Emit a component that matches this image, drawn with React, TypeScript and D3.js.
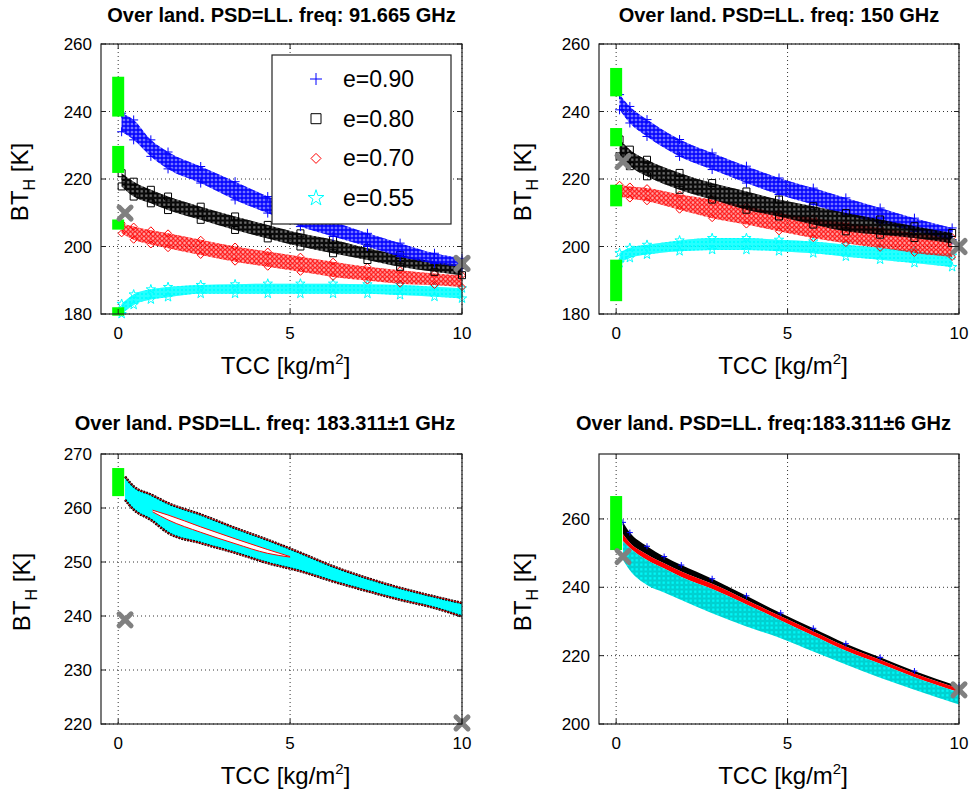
import React from 'react';
import * as d3 from 'd3';

const FONT = '"Liberation Sans", Arial, Helvetica, sans-serif';

// shared x axis
const xDomain: [number, number] = [-0.5, 10];
const xTicks = [0, 5, 10];

// ---- 91.665 GHz ----
const tcc91 = [0.1, 0.45, 0.95, 1.45, 2.4, 3.4, 4.35, 5.3, 6.25, 7.25, 8.2, 9.2, 10];
const e90Hi91 = [239.5, 237.5, 231.6, 228, 223.7, 219.2, 214.8, 210.8, 207.4, 203.9, 201, 198, 196.5];
const e90Lo91 = [234, 231.6, 226.7, 223, 218.8, 213.8, 209.9, 205.9, 203, 200, 197, 195, 194];
const e80Hi91 = [221.7, 219.2, 216.8, 214.8, 211.8, 208.9, 206.4, 203.9, 202, 199.5, 197.5, 195.5, 194.5];
const e80Lo91 = [217.8, 214.8, 212.8, 210.8, 207.9, 204.9, 202.4, 200, 198, 196, 194, 192.5, 191.5];
const e70Hi91 = [206.9, 205.9, 204.8, 203.9, 202, 200, 198.5, 197, 195.5, 194, 193, 192, 191.5];
const e70Lo91 = [203.9, 202, 200.6, 199.5, 197.5, 195.5, 194, 192.5, 191, 189.9, 189, 188.6, 188];
const e55Hi91 = [183, 185.8, 187.3, 188, 188.6, 188.8, 189, 189, 189, 188.8, 188.6, 188.1, 187.6];
const e55Lo91 = [180, 182.7, 184.3, 185, 186, 186, 186, 186, 186, 186, 185.6, 185.1, 184.6];
const green91 = [[238.5, 250.3], [221.8, 229.8], [205, 208], [179.5, 182]];
const obs91 = [[0.2, 209.9], [10, 195]];

// ---- 150 GHz ----
const tcc150 = [0.1, 0.4, 0.9, 1.85, 2.8, 3.8, 4.75, 5.75, 6.7, 7.7, 8.7, 9.8];
const e90Hi150 = [245, 241.5, 237.6, 231.7, 227.7, 223.8, 220.3, 217.3, 214.4, 211.4, 208.4, 205.5];
const e90Lo150 = [240.5, 236.6, 232.6, 226.7, 222.8, 218.8, 215.4, 212.4, 209.4, 207, 204.5, 202];
const e80Hi150 = [231.7, 228.7, 225.7, 221.8, 218.8, 216.3, 213.9, 211.9, 209.9, 208, 206, 204];
const e80Lo150 = [226.7, 223.8, 220.8, 216.8, 213.9, 210.9, 208.9, 206.5, 204.5, 203.5, 202.5, 201];
const e70Hi150 = [218.3, 217.8, 217.3, 215.4, 213.9, 211.9, 209.9, 208.4, 207, 205.5, 204, 202.8];
const e70Lo150 = [214.9, 214.2, 213.4, 210.9, 208.4, 206.5, 204.5, 202.5, 201, 199.6, 198.1, 196.9];
const e55Hi150 = [198.1, 199.6, 200.5, 201.8, 202.5, 202.5, 202, 201.5, 200.5, 199.6, 198.6, 197.3];
const e55Lo150 = [195.1, 196.6, 197.6, 198.6, 199, 199, 198.6, 198, 197, 196.1, 195.1, 193.9];
const green150 = [[244.5, 252.9], [229.7, 235.1], [211.9, 218.3], [183.8, 196.1]];
const obs150 = [[0.2, 225.2], [10, 200]];

// ---- 183.311±1 GHz ----
const tcc1831 = [0.2, 0.45, 0.95, 1.45, 2.4, 3.4, 4.35, 5.3, 6.25, 7.25, 8.2, 9.2, 10];
const bandHi1831 = [265.8, 264, 262.5, 260.9, 258.8, 256.3, 254.1, 251.7, 249.2, 247, 245.2, 243.6, 242.4];
const bandLo1831 = [261.5, 259.7, 257.8, 255.4, 253.5, 251.7, 249.8, 248.3, 246.4, 244.6, 243, 241.5, 239.9];
const tccGap1831 = [1.0, 1.45, 2.4, 3.4, 4.35, 5.0];
const gapHi1831 = [259.6, 258.7, 256.5, 254.3, 252.3, 251.0];
const gapLo1831 = [259.3, 257.8, 255.5, 253.4, 251.6, 250.9];
const green1831 = [[262.2, 267.4]];
const obs1831 = [[0.2, 239.3], [10, 220.2]];

// ---- 183.311±6 GHz ----
const tcc1836 = [0.2, 0.4, 0.9, 1.4, 1.9, 2.8, 3.8, 4.8, 5.75, 6.7, 7.7, 8.7, 10];
const top1836 = [259, 256, 252, 249, 246.5, 242.5, 237.5, 232.5, 228, 223.5, 219.5, 215.5, 211];
const blackLo1836 = [255.5, 253, 249.6, 247, 244.6, 241, 236.3, 231.5, 227.1, 222.7, 218.8, 214.8, 210.4];
const redLo1836 = [253.5, 251.5, 248, 245.5, 243, 239.5, 235, 230.3, 225.8, 221.4, 217.6, 213.7, 209.3];
const cyanLo1836 = [248, 245, 240.7, 238.5, 236.3, 232.4, 228.5, 225.1, 221.2, 217.4, 213.5, 210, 205.7];
const green1836 = [[250.9, 266.7]];
const obs1836 = [[0.2, 249], [10, 210]];

const legendLabels = ['e=0.90', 'e=0.80', 'e=0.70', 'e=0.55'];
const legendShapes = ['plus', 'square', 'diamond', 'star'];
const legendColors = ['#0000ff', '#000000', '#ff0000', '#00ffff'];

function markerPath(shape: string, s: number) {
  if (shape === 'plus') return `M${-s},0H${s}M0,${-s}V${s}`;
  if (shape === 'square') return `M${-s},${-s}h${2 * s}v${2 * s}h${-2 * s}Z`;
  if (shape === 'diamond') return `M0,${-s}L${s},0L0,${s}L${-s},0Z`;
  return d3.symbol().type(d3.symbolStar).size(s * s * 2.2)() as string;
}

const patternId: Record<string, string> = {
  plus: 'url(#pPlus)', square: 'url(#pSq)', diamond: 'url(#pDia)', star: 'url(#pStar)',
};
// how solid each band looks under its marker texture
const baseOpacity: Record<string, number> = { plus: 0.55, square: 0.5, diamond: 0.35, star: 0.7 };

function zip(t: number[], hi: number[], lo: number[]) {
  return t.map((v, i) => ({ t: v, hi: hi[i], lo: lo[i] }));
}

type Box = { x0: number; x1: number; y0: number; y1: number };

function Panel(props: {
  box: Box; yDomain: [number, number]; yTicks: number[]; title: string;
  titleX: number; titleY: number; ylabX: number;
  draw: (x: d3.ScaleLinear<number, number>, y: d3.ScaleLinear<number, number>) => React.ReactNode;
}) {
  const { box, yDomain, yTicks, title, titleX, titleY, ylabX, draw } = props;
  const x = d3.scaleLinear().domain(xDomain).range([box.x0, box.x1]);
  const y = d3.scaleLinear().domain(yDomain).range([box.y1, box.y0]);
  const cy = (box.y0 + box.y1) / 2;
  const cx = (box.x0 + box.x1) / 2;
  const tk = 5;
  return (
    <g>
      {/* grid */}
      {xTicks.map(t => (
        <line key={'gx' + t} x1={x(t)} x2={x(t)} y1={box.y0} y2={box.y1}
          stroke="#000" strokeWidth={0.8} strokeDasharray="1,3" />
      ))}
      {yTicks.map(t => (
        <line key={'gy' + t} x1={box.x0} x2={box.x1} y1={y(t)} y2={y(t)}
          stroke="#000" strokeWidth={0.8} strokeDasharray="1,3" />
      ))}
      {draw(x, y)}
      <rect x={box.x0} y={box.y0} width={box.x1 - box.x0} height={box.y1 - box.y0}
        fill="none" stroke="#222" strokeWidth={1.2} />
      {xTicks.map(t => (
        <g key={'tx' + t}>
          <line x1={x(t)} x2={x(t)} y1={box.y1} y2={box.y1 - tk} stroke="#222" />
          <line x1={x(t)} x2={x(t)} y1={box.y0} y2={box.y0 + tk} stroke="#222" />
          <text x={x(t)} y={box.y1 + 25} textAnchor="middle" fontSize={17} fontFamily={FONT}>{t}</text>
        </g>
      ))}
      {yTicks.map(t => (
        <g key={'ty' + t}>
          <line x1={box.x0} x2={box.x0 + tk} y1={y(t)} y2={y(t)} stroke="#222" />
          <line x1={box.x1} x2={box.x1 - tk} y1={y(t)} y2={y(t)} stroke="#222" />
          <text x={box.x0 - 9} y={y(t) + 6} textAnchor="end" fontSize={17} fontFamily={FONT}>{t}</text>
        </g>
      ))}
      <text x={titleX} y={titleY} textAnchor="middle" fontSize={20} fontWeight="bold" fontFamily={FONT}>{title}</text>
      <text x={cx + 4} y={box.y1 + 60} textAnchor="middle" fontSize={24} fontFamily={FONT}>
        TCC [kg/m<tspan fontSize={15} dy={-10}>2</tspan><tspan dy={10}>]</tspan>
      </text>
      <text transform={`translate(${ylabX},${cy + 3}) rotate(-90)`} textAnchor="middle" fontSize={24} fontFamily={FONT}>
        BT<tspan fontSize={16} dy={7}>H</tspan><tspan dy={-7}> [K]</tspan>
      </text>
    </g>
  );
}

function Band({ x, y, t, hi, lo, color, shape }: any) {
  const pts = zip(t, hi, lo);
  const area = d3.area<any>().x(d => x(d.t)).y0(d => y(d.lo)).y1(d => y(d.hi)).curve(d3.curveMonotoneX);
  const m = markerPath(shape, shape === 'plus' ? 4.5 : 3.5);
  const d = area(pts) as string;
  return (
    <g>
      <path d={d} fill={color} fillOpacity={baseOpacity[shape]} />
      <path d={d} fill={patternId[shape]} />
      {pts.map((p, i) => (
        <g key={i}>
          <path d={m} transform={`translate(${x(p.t)},${y(p.hi)})`} fill="none" stroke={color} strokeWidth={1} />
          <path d={m} transform={`translate(${x(p.t)},${y(p.lo)})`} fill="none" stroke={color} strokeWidth={1} />
        </g>
      ))}
    </g>
  );
}

function GreenBars({ x, y, bars }: any) {
  return (
    <g>
      {bars.map((b: number[], i: number) => (
        <rect key={i} x={x(0) - 6} width={12} y={y(b[1])} height={Math.max(6, y(b[0]) - y(b[1]))} fill="#00ff00" />
      ))}
    </g>
  );
}

function Obs({ x, y, pts }: any) {
  return (
    <g>
      {pts.map((p: number[], i: number) => (
        <path key={i} d="M-6,-6L6,6M-6,6L6,-6" transform={`translate(${x(p[0])},${y(p[1])})`}
          stroke="#808080" strokeWidth={5} strokeLinecap="round" />
      ))}
    </g>
  );
}

function Legend() {
  const lx = 272, ly = 55, lw = 179, lh = 169;
  return (
    <g>
      <rect x={lx} y={ly} width={lw} height={lh} fill="#fff" stroke="#222" strokeWidth={1.2} />
      {legendLabels.map((l, i) => {
        const yy = 79 + i * 39.7;
        const sz = legendShapes[i] === 'plus' ? 6 : legendShapes[i] === 'star' ? 6 : 5;
        return (
          <g key={l}>
            <path d={markerPath(legendShapes[i], sz)} transform={`translate(316,${yy})`} fill="none"
              stroke={legendColors[i]} strokeWidth={1} />
            <text x={343} y={yy + 8} fontSize={23} fontFamily={FONT}>{l}</text>
          </g>
        );
      })}
    </g>
  );
}

export default function App() {
  const lineHi = (x: any, y: any) => d3.line<any>().x(d => x(d.t)).y(d => y(d.hi)).curve(d3.curveMonotoneX);
  const lineLo = (x: any, y: any) => d3.line<any>().x(d => x(d.t)).y(d => y(d.lo)).curve(d3.curveMonotoneX);
  return (
    <svg width={970} height={797} style={{ position: 'absolute', left: 0, top: 0, background: '#fff' }}>
      <defs>
        <pattern id="pPlus" width={4} height={4} patternUnits="userSpaceOnUse">
          <path d="M0,2H4M2,0V4" stroke="#0000ff" strokeWidth={1.4} />
        </pattern>
        <pattern id="pSq" width={4.5} height={4.5} patternUnits="userSpaceOnUse">
          <rect x={0.6} y={0.6} width={3.3} height={3.3} fill="none" stroke="#000" strokeWidth={1.1} />
        </pattern>
        <pattern id="pDia" width={4.5} height={4.5} patternUnits="userSpaceOnUse">
          <path d="M2.25,0.2L4.3,2.25L2.25,4.3L0.2,2.25Z" fill="none" stroke="#ff0000" strokeWidth={1} />
        </pattern>
        <pattern id="pStar" width={4} height={4} patternUnits="userSpaceOnUse">
          <path d="M0,2H4M2,0V4M0.5,0.5L3.5,3.5M3.5,0.5L0.5,3.5" stroke="#00ffff" strokeWidth={1} />
        </pattern>
      </defs>

      <Panel box={{ x0: 101, x1: 462, y0: 44, y1: 314 }} yDomain={[180, 260]} yTicks={[180, 200, 220, 240, 260]}
        title="Over land. PSD=LL. freq: 91.665 GHz" titleX={281.5} titleY={22} ylabX={28}
        draw={(x, y) => (
          <g>
            <Band x={x} y={y} t={tcc91} hi={e55Hi91} lo={e55Lo91} color="#00ffff" shape="star" />
            <Band x={x} y={y} t={tcc91} hi={e70Hi91} lo={e70Lo91} color="#ff0000" shape="diamond" />
            <Band x={x} y={y} t={tcc91} hi={e80Hi91} lo={e80Lo91} color="#000000" shape="square" />
            <Band x={x} y={y} t={tcc91} hi={e90Hi91} lo={e90Lo91} color="#0000ff" shape="plus" />
            <GreenBars x={x} y={y} bars={green91} />
            <Obs x={x} y={y} pts={obs91} />
          </g>
        )} />
      <Legend />

      <Panel box={{ x0: 599, x1: 959, y0: 44, y1: 314 }} yDomain={[180, 260]} yTicks={[180, 200, 220, 240, 260]}
        title="Over land. PSD=LL. freq: 150 GHz" titleX={779} titleY={22} ylabX={531}
        draw={(x, y) => (
          <g>
            <Band x={x} y={y} t={tcc150} hi={e55Hi150} lo={e55Lo150} color="#00ffff" shape="star" />
            <Band x={x} y={y} t={tcc150} hi={e70Hi150} lo={e70Lo150} color="#ff0000" shape="diamond" />
            <Band x={x} y={y} t={tcc150} hi={e90Hi150} lo={e90Lo150} color="#0000ff" shape="plus" />
            <Band x={x} y={y} t={tcc150} hi={e80Hi150} lo={e80Lo150} color="#000000" shape="square" />
            <GreenBars x={x} y={y} bars={green150} />
            <Obs x={x} y={y} pts={obs150} />
          </g>
        )} />

      <Panel box={{ x0: 101, x1: 462, y0: 454, y1: 724 }} yDomain={[220, 270]} yTicks={[220, 230, 240, 250, 260, 270]}
        title="Over land. PSD=LL. freq: 183.311±1 GHz" titleX={265} titleY={430} ylabX={30}
        draw={(x, y) => {
          const pts = zip(tcc1831, bandHi1831, bandLo1831);
          const gap = zip(tccGap1831, gapHi1831, gapLo1831);
          const area = d3.area<any>().x(d => x(d.t)).y0(d => y(d.lo)).y1(d => y(d.hi)).curve(d3.curveMonotoneX);
          return (
            <g>
              <path d={area(pts) as string} fill="#00ffff" />
              <path d={area(pts) as string} fill="url(#pStar)" />
              <path d={area(gap) as string} fill="#fff" />
              {[lineHi(x, y)(pts), lineLo(x, y)(pts)].map((d, i) => (
                <g key={i}>
                  <path d={d as string} fill="none" stroke="#000" strokeWidth={2.6} strokeDasharray="2,1" />
                  <path d={d as string} fill="none" stroke="#ff0000" strokeWidth={0.8} />
                </g>
              ))}
              {[lineHi(x, y)(gap), lineLo(x, y)(gap)].map((d, i) => (
                <path key={i} d={d as string} fill="none" stroke="#ff0000" strokeWidth={1} />
              ))}
              <GreenBars x={x} y={y} bars={green1831} />
              <Obs x={x} y={y} pts={obs1831} />
            </g>
          );
        }} />

      <Panel box={{ x0: 599, x1: 959, y0: 454, y1: 724 }} yDomain={[200, 279]} yTicks={[200, 220, 240, 260]}
        title="Over land. PSD=LL. freq:183.311±6 GHz" titleX={763.5} titleY={430} ylabX={531}
        draw={(x, y) => {
          const area = d3.area<any>().x(d => x(d.t)).y0(d => y(d.lo)).y1(d => y(d.hi)).curve(d3.curveMonotoneX);
          const blk = zip(tcc1836, top1836, blackLo1836);
          const red = zip(tcc1836, blackLo1836, redLo1836);
          const cyn = zip(tcc1836, redLo1836, cyanLo1836);
          const m = markerPath('plus', 3);
          return (
            <g>
              <path d={area(blk) as string} fill="#000" />
              <path d={area(red) as string} fill="#ff0000" />
              <path d={area(cyn) as string} fill="#00ffff" />
              <path d={area(cyn) as string} fill="url(#pSq)" opacity={0.2} />
              {blk.map((d, i) => (
                <path key={i} d={m} transform={`translate(${x(d.t)},${y(d.hi)})`} stroke="#0000ff" strokeWidth={1} />
              ))}
              <GreenBars x={x} y={y} bars={green1836} />
              <Obs x={x} y={y} pts={obs1836} />
            </g>
          );
        }} />
    </svg>
  );
}
